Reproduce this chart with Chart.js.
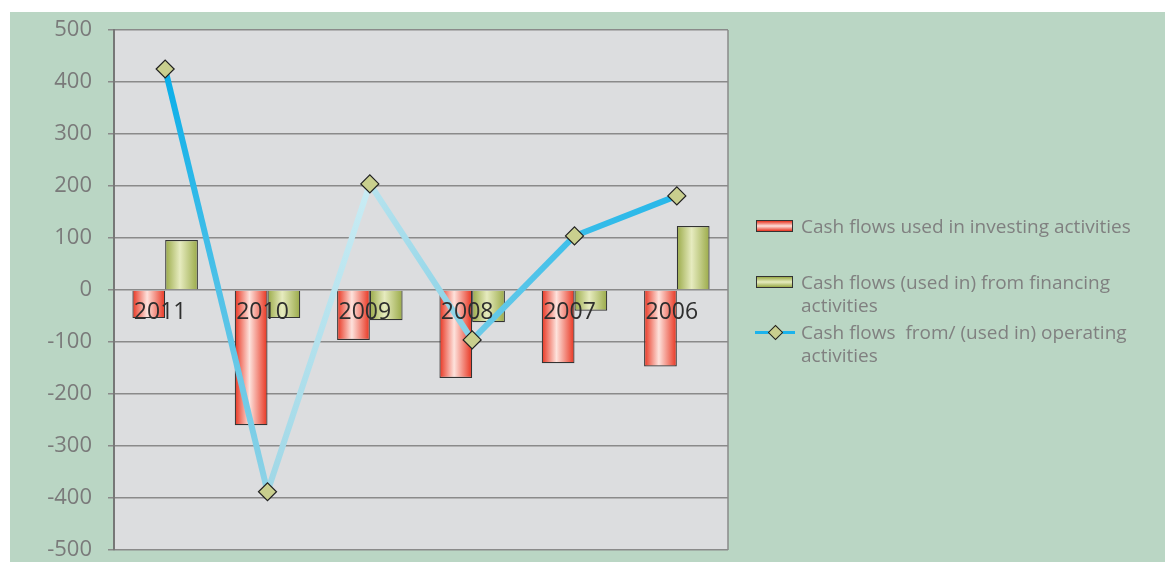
<!DOCTYPE html>
<html>
<head>
<meta charset="utf-8">
<script src="https://cdn.jsdelivr.net/npm/chart.js@4.4.1/dist/chart.umd.min.js"></script>
<style>
  body { margin: 0; background: #fff; width: 1165px; height: 562px; overflow: hidden; font-family: "Open Sans", sans-serif; }
  #wrap { position: absolute; left: 10px; top: 12px; width: 1155px; height: 550px; background: #bad6c4; }
  #wrap canvas { position: absolute; left: 0; top: 0; }
  .item { position: absolute; left: 791px; color: #808080; font-size: 19px; line-height: 23px; white-space: pre; }
  .box { position: absolute; left: 746px; width: 35px; height: 10px; border: 1.5px solid #333; }
  .lineIcon { position: absolute; left: 745px; width: 40px; height: 3px; background: #1bb3ec; }
  .dia { position: absolute; width: 9px; height: 9px; background: #c9cf8e; border: 1px solid #222; transform: rotate(45deg); }
</style>
</head>
<body>
<div id="wrap">
  <canvas id="chart" width="1155" height="550"></canvas>
  <div id="legend"></div>
</div>
<script>
// data
const years = ["2011", "2010", "2009", "2008", "2007", "2006"];
const investing = [-54, -260, -96, -169, -141, -147];
const financing = [96, -54, -58, -62, -40, 123];
const operating = [425, -388, 204, -96, 104, 181];
const yTicks = [-500, -400, -300, -200, -100, 0, 100, 200, 300, 400, 500];

const seriesNames = [
  "Cash flows used in investing activities",
  "Cash flows (used in) from financing\nactivities",
  "Cash flows  from/ (used in) operating\nactivities"
];

const catPct = 0.64;

// horizontal shading across each bar, like the original 3D look
function barFill(ctx, side, edge, mid) {
  const chart = ctx.chart;
  const xs = chart.scales.x;
  if (!xs || ctx.dataIndex === undefined) return edge;
  const c = xs.getPixelForValue(ctx.dataIndex);
  const w = xs.width / years.length * catPct / 2;
  if (!isFinite(c) || !isFinite(w) || w <= 0) return edge;
  const left = side === 0 ? c - w : c;
  const g = chart.ctx.createLinearGradient(left, 0, left + w, 0);
  g.addColorStop(0, edge);
  g.addColorStop(0.45, mid);
  g.addColorStop(1, edge);
  return g;
}

const segColors = [
  ["#08aee9", "#8fd3e6"],
  ["#9fd7e6", "#c9ecf4"],
  ["#b7e3ee", "#86d1e6"],
  ["#6fcbe8", "#3cbfea"],
  ["#38bde9", "#27b7e9"]
];

function segFill(ctx) {
  const cols = segColors[ctx.p0DataIndex] || segColors[0];
  if (!ctx.p0 || !ctx.p1 || !isFinite(ctx.p0.x) || !isFinite(ctx.p1.y)) return cols[1];
  const g = ctx.chart.ctx.createLinearGradient(ctx.p0.x, ctx.p0.y, ctx.p1.x, ctx.p1.y);
  g.addColorStop(0, cols[0]);
  g.addColorStop(1, cols[1]);
  return g;
}

const plotBg = {
  id: "plotBg",
  beforeDraw(chart) {
    const a = chart.chartArea, c = chart.ctx;
    c.save();
    c.fillStyle = "#dcdddf";
    c.fillRect(a.left, a.top, a.right - a.left, a.bottom - a.top);
    c.strokeStyle = "#8a8a8a";
    c.lineWidth = 1.5;
    c.beginPath();
    c.moveTo(a.right, a.top);
    c.lineTo(a.right, a.bottom);
    c.stroke();
    c.restore();
  }
};

// year labels sit just under the zero line
const yearLabels = {
  id: "yearLabels",
  afterDatasetsDraw(chart) {
    const xs = chart.scales.x, ys = chart.scales.y, c = chart.ctx;
    c.save();
    c.font = '23px "Open Sans"';
    c.fillStyle = "#2e2e2e";
    c.textAlign = "center";
    c.textBaseline = "middle";
    years.forEach((y, i) => {
      c.fillText(y, xs.getPixelForValue(i) - 5, ys.getPixelForValue(0) + 22);
    });
    c.restore();
  }
};

// legend on the right
const legend = document.getElementById("legend");
const legendTops = [203, 259, 309];
seriesNames.forEach((name, i) => {
  const t = document.createElement("div");
  t.className = "item";
  t.style.top = legendTops[i] + "px";
  t.textContent = name;
  legend.appendChild(t);
  if (i < 2) {
    const b = document.createElement("div");
    b.className = "box";
    b.style.top = (legendTops[i] + 5) + "px";
    b.style.background = i === 0
      ? "linear-gradient(#e8331f, #fde2dc 50%, #e8331f)"
      : "linear-gradient(#9aaa48, #e6ebbf 50%, #9aaa48)";
    legend.appendChild(b);
  } else {
    const l = document.createElement("div");
    l.className = "lineIcon";
    l.style.top = (legendTops[i] + 10) + "px";
    legend.appendChild(l);
    const d = document.createElement("div");
    d.className = "dia";
    d.style.left = "760px";
    d.style.top = (legendTops[i] + 6) + "px";
    legend.appendChild(d);
  }
});

new Chart(document.getElementById("chart"), {
  type: "bar",
  data: {
    labels: years,
    datasets: [
      {
        type: "line",
        label: seriesNames[2],
        data: operating,
        order: 0,
        borderWidth: 6,
        borderColor: "#3cbfea",
        segment: { borderColor: segFill },
        pointStyle: "rectRot",
        pointRadius: 9,
        pointBackgroundColor: "#c9cf8e",
        pointBorderColor: "#222",
        pointBorderWidth: 1.2,
        tension: 0
      },
      {
        label: seriesNames[0],
        data: investing,
        order: 1,
        backgroundColor: ctx => barFill(ctx, 0, "#e8331f", "#fde2dc"),
        borderColor: "#333",
        borderWidth: 1.2,
        categoryPercentage: catPct,
        barPercentage: 1
      },
      {
        label: seriesNames[1],
        data: financing,
        order: 1,
        backgroundColor: ctx => barFill(ctx, 1, "#9aaa48", "#e6ebbf"),
        borderColor: "#333",
        borderWidth: 1.2,
        categoryPercentage: catPct,
        barPercentage: 1
      }
    ]
  },
  options: {
    responsive: false,
    animation: false,
    layout: { padding: { left: 0, top: 18, right: 437, bottom: 12 } },
    plugins: { legend: { display: false }, tooltip: { enabled: false } },
    scales: {
      x: { display: false },
      y: {
        min: -500,
        max: 500,
        afterFit(s) { s.width = 104; s.paddingTop = 0; s.paddingBottom = 0; },
        afterBuildTicks(s) { s.ticks = yTicks.map(v => ({ value: v })); },
        ticks: { color: "#7a7a7a", font: { family: "Open Sans", size: 22 }, padding: 16 },
        grid: { color: "#8a8a8a", lineWidth: 1.5, tickLength: 6 },
        border: { color: "#777", width: 2 }
      }
    }
  },
  plugins: [plotBg, yearLabels]
});
</script>
</body>
</html>
